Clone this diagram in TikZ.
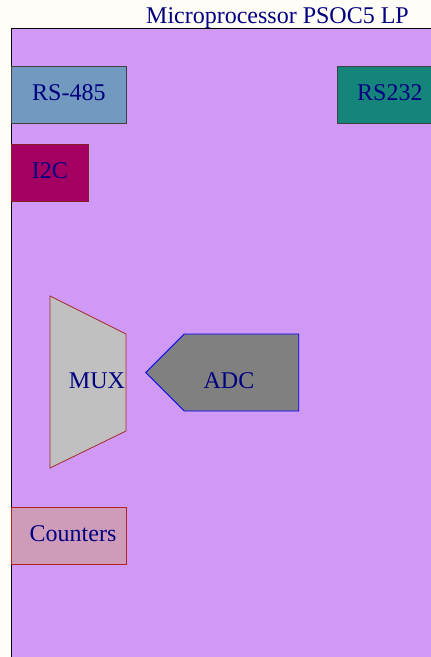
\documentclass[tikz,border=0pt]{standalone}
\usepackage{fontspec}
\setmainfont{Liberation Serif}
\usetikzlibrary{positioning,shapes.symbols}
\definecolor{pagebg}{RGB}{255,253,248}
\definecolor{mcufill}{RGB}{207,153,245}
\definecolor{rsblue}{RGB}{114,153,192}
\definecolor{rsteal}{RGB}{21,132,122}
\definecolor{i2cmagenta}{RGB}{163,0,98}
\definecolor{muxgray}{RGB}{192,192,192}
\definecolor{muxedge}{RGB}{165,42,42}
\definecolor{adcgray}{RGB}{128,128,128}
\definecolor{cntpink}{RGB}{206,155,184}
\definecolor{cntedge}{RGB}{178,34,34}
\definecolor{labelnavy}{RGB}{0,0,128}
\tikzset{
  caption/.style={
    text=labelnavy,
    inner sep=0pt,
    font=\fontsize{24}{28}\selectfont
  },
  unit/.style={
    caption,
    draw=black!75,
    line width=0.8pt,
    minimum height=57pt,
    text height=16pt,
    text depth=5pt
  }
}

\begin{document}
\begin{tikzpicture}[x=1pt,y=-1pt]
        \useasboundingbox[fill=pagebg] (0,0) rectangle (431,657);
        \clip (0,0) rectangle (431,657);
        \node[draw=black, line width=0.8pt, fill=mcufill, anchor=north west, minimum width=440pt, minimum height=650pt] (mcu) at (11,28) {};
        \node[caption, anchor=base] (title) at (277.5,23) {Microprocessor PSOC5 LP};
        \node[unit, fill=rsblue, anchor=north west, minimum width=115pt] (rs485) at (11,66) {RS-485};
        \node[unit, fill=rsteal, anchor=north west, minimum width=105pt] (rs232) at (337,66) {RS232};
        \node[unit, fill=i2cmagenta, draw=muxedge!80!black, below right=20pt and 0pt of rs485.south west, minimum width=77pt] (i2c) {I2C};
        \draw[draw=muxedge, line width=0.8pt, fill=muxgray] (50,296) -- (126,334) -- (126,431) -- (50,468) -- cycle;
        \node[caption, anchor=base] (mux) at (97,388) {MUX};
        \node[shape=signal, signal to=west, signal pointer angle=90, draw=blue, line width=0.8pt, fill=adcgray, minimum width=153pt, minimum height=77pt, inner sep=0pt] (adc) at (241.5,372.5) {};
        \node[caption, anchor=base] (adclbl) at (229,388) {ADC};
        \node[unit, fill=cntpink, draw=cntedge, anchor=north west, minimum width=115pt, text width=95pt, align=right] (counters) at (11,507) {Counters};
      \end{tikzpicture}
\end{document}
